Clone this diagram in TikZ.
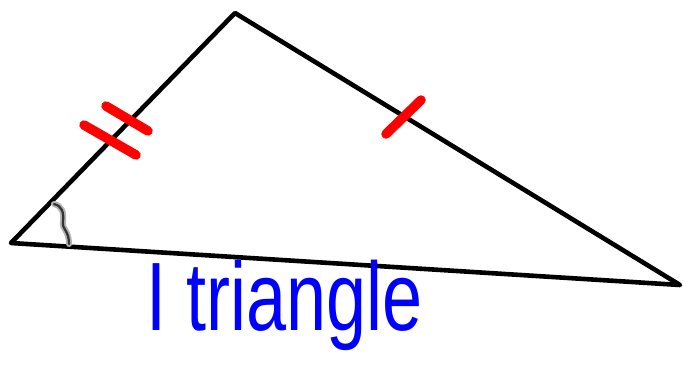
\documentclass[tikz,border=0pt]{standalone}
\usepackage{fontspec}
\setmainfont{Liberation Sans}
\begin{document}
\begin{tikzpicture}[x=1pt,y=-1pt,
  side/.style={line width=4.6pt,line cap=round,line join=round},
  tick/.style={red,line width=9.5pt,line cap=round},
  anglemark/.style={line width=2.2pt,line cap=round},
  handtext/.style={text=blue,font=\fontsize{72}{72}\selectfont,inner sep=0pt}]
\useasboundingbox[fill=white] (0,0) rectangle (683,378);
\coordinate (A) at (11,243);
\coordinate (B) at (235,13);
\coordinate (C) at (680,285);
\draw[side] (A) -- (B) -- (C) -- cycle;
% tick marks
\coordinate (t1a) at (84,125); \coordinate (t1b) at (136,155);
\coordinate (t2a) at (106,106); \coordinate (t2b) at (148,131);
\coordinate (t3a) at (386,134); \coordinate (t3b) at (421,100);
\draw[tick] (t1a) -- (t1b);
\draw[tick] (t2a) -- (t2b);
\draw[tick] (t3a) -- (t3b);
% angle mark
\coordinate (m1) at (54,204);
\coordinate (m2) at (69,244);
\draw[anglemark,gray!60,line width=6pt] (m1) .. controls (62,206) and (64,212) .. (63,222)
  .. controls (62,230) and (69,230) .. (m2);
\draw[anglemark,black!80] (m1) .. controls (62,206) and (64,212) .. (63,222)
  .. controls (62,230) and (69,230) .. (m2);
% label
\node[handtext,anchor=base west] (lbl) at (146,330) {\scalebox{1}[1.35]{I triangle}};
\end{tikzpicture}
\end{document}
